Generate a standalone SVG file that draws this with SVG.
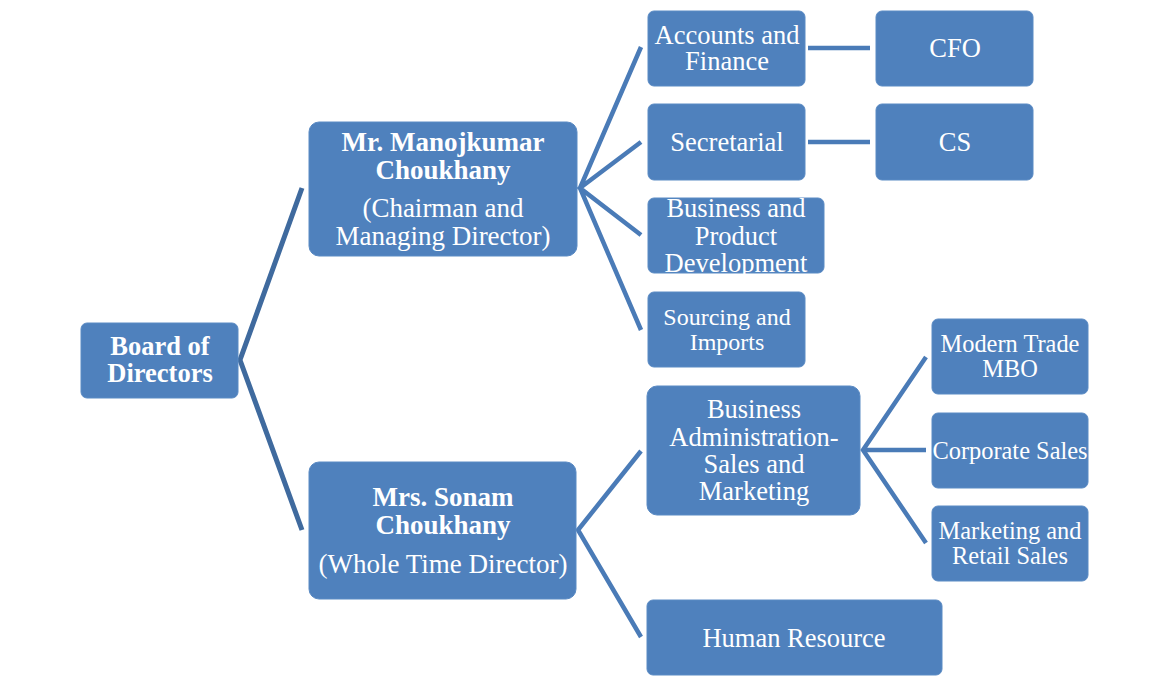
<svg xmlns="http://www.w3.org/2000/svg" width="1153" height="677" viewBox="0 0 1153 677">
<style>
.box{fill:#4F81BD;stroke:#5B8BC4;stroke-width:1}
.t{font-family:"Liberation Serif",serif;fill:#fff;text-anchor:middle}
.b{font-weight:bold}
.c{stroke:#4A7BB7;stroke-width:4.5;fill:none;stroke-linejoin:miter}
.cd{stroke:#3F6A9E;stroke-width:5;fill:none}
</style>
<rect width="1153" height="677" fill="#fff"/>
<g id="connectors">
<path class="cd" d="M302,188 L240,360 L302,530"/>
<path class="c" d="M641,47 L580,188 L641,330 M641,142 L580,188 L641,235"/>
<path class="c" d="M641,451 L578,530 L641,637"/>
<path class="c" d="M926,357 L863,450 L926,543 M863,450 L926,450"/>
<path class="c" d="M808,48 L870,48 M808,142 L870,142"/>
</g>
<g id="board"><rect class="box" x="81" y="323" width="157" height="75" rx="6"/>
<text class="t b" font-size="26.5" x="160" y="355">Board of</text>
<text class="t b" font-size="26.5" x="160" y="382">Directors</text></g>
<g id="manoj"><rect class="box" x="309" y="122" width="268" height="134" rx="10"/>
<text class="t b" font-size="27" x="443" y="151">Mr. Manojkumar</text>
<text class="t b" font-size="27" x="443" y="179">Choukhany</text>
<text class="t" font-size="27" x="443" y="217">(Chairman and</text>
<text class="t" font-size="27" x="443" y="245">Managing Director)</text></g>
<g id="sonam"><rect class="box" x="309" y="462" width="267" height="137" rx="10"/>
<text class="t b" font-size="27" x="443" y="506">Mrs. Sonam</text>
<text class="t b" font-size="27" x="443" y="534">Choukhany</text>
<text class="t" font-size="27" x="443" y="573">(Whole Time Director)</text></g>
<g id="accounts"><rect class="box" x="648" y="11" width="157" height="75" rx="6"/>
<text class="t" font-size="26.5" x="727" y="44">Accounts and</text>
<text class="t" font-size="26.5" x="727" y="70">Finance</text></g>
<g id="cfo"><rect class="box" x="876" y="11" width="157" height="75" rx="6"/>
<text class="t" font-size="26.5" x="955" y="57">CFO</text></g>
<g id="secretarial"><rect class="box" x="648" y="104" width="157" height="76" rx="6"/>
<text class="t" font-size="26.5" x="727" y="151">Secretarial</text></g>
<g id="cs"><rect class="box" x="876" y="104" width="157" height="76" rx="6"/>
<text class="t" font-size="26.5" x="955" y="151">CS</text></g>
<g id="bpd"><rect class="box" x="648" y="198" width="176" height="75" rx="6"/>
<text class="t" font-size="26.5" x="736" y="217">Business and</text>
<text class="t" font-size="26.5" x="736" y="245">Product</text>
<text class="t" font-size="26.5" x="736" y="272">Development</text></g>
<g id="sourcing"><rect class="box" x="648" y="292" width="157" height="75" rx="6"/>
<text class="t" font-size="24" x="727" y="325">Sourcing and</text>
<text class="t" font-size="24" x="727" y="350">Imports</text></g>
<g id="bizadmin"><rect class="box" x="647" y="386" width="213" height="129" rx="10"/>
<text class="t" font-size="26.5" x="754" y="418">Business</text>
<text class="t" font-size="26.5" x="754" y="446">Administration-</text>
<text class="t" font-size="26.5" x="754" y="473">Sales and</text>
<text class="t" font-size="26.5" x="754" y="500">Marketing</text></g>
<g id="modern"><rect class="box" x="932" y="319" width="156" height="75" rx="6"/>
<text class="t" font-size="24.4" x="1010" y="352">Modern Trade</text>
<text class="t" font-size="24.4" x="1010" y="377">MBO</text></g>
<g id="corporate"><rect class="box" x="932" y="413" width="156" height="75" rx="6"/>
<text class="t" font-size="24.4" x="1010" y="459">Corporate Sales</text></g>
<g id="marketing"><rect class="box" x="932" y="506" width="156" height="75" rx="6"/>
<text class="t" font-size="24.4" x="1010" y="539">Marketing and</text>
<text class="t" font-size="24.4" x="1010" y="564">Retail Sales</text></g>
<g id="hr"><rect class="box" x="647" y="600" width="295" height="75" rx="6"/>
<text class="t" font-size="26.5" x="794" y="647">Human Resource</text></g>
</svg>
